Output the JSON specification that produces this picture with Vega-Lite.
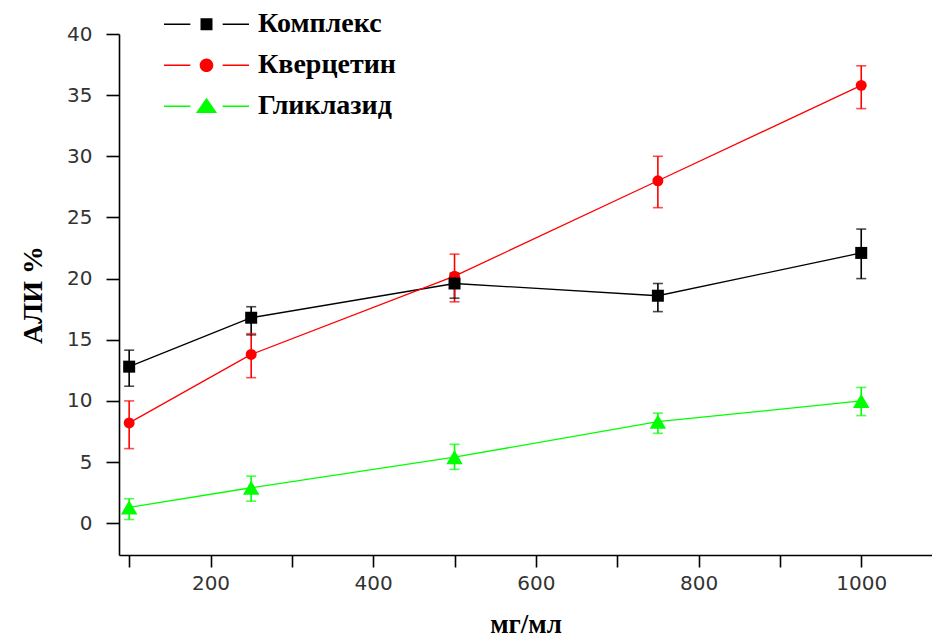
{
  "$schema": "https://vega.github.io/schema/vega-lite/v6.json",
  "width": 813,
  "height": 521,
  "autosize": "none",
  "padding": {"left": 119, "top": 34, "right": 0, "bottom": 85},
  "background": "white",
  "config": {"view": {"stroke": null}},
  "data": {"values": [
    {"series": "Комплекс", "x": 100, "y": 12.8, "lo": 11.2, "hi": 14.15},
    {"series": "Комплекс", "x": 250, "y": 16.8, "lo": 15.4, "hi": 17.7},
    {"series": "Комплекс", "x": 500, "y": 19.6, "lo": 18.4, "hi": 20.45},
    {"series": "Комплекс", "x": 750, "y": 18.6, "lo": 17.3, "hi": 19.6},
    {"series": "Комплекс", "x": 1000, "y": 22.1, "lo": 20.0, "hi": 24.05},
    {"series": "Кверцетин", "x": 100, "y": 8.2, "lo": 6.1, "hi": 10.0},
    {"series": "Кверцетин", "x": 250, "y": 13.8, "lo": 11.9, "hi": 15.5},
    {"series": "Кверцетин", "x": 500, "y": 20.2, "lo": 18.1, "hi": 22.0},
    {"series": "Кверцетин", "x": 750, "y": 28.0, "lo": 25.8, "hi": 30.0},
    {"series": "Кверцетин", "x": 1000, "y": 35.8, "lo": 33.9, "hi": 37.4},
    {"series": "Гликлазид", "x": 100, "y": 1.3, "lo": 0.3, "hi": 2.0},
    {"series": "Гликлазид", "x": 250, "y": 2.9, "lo": 1.8, "hi": 3.85},
    {"series": "Гликлазид", "x": 500, "y": 5.4, "lo": 4.4, "hi": 6.45},
    {"series": "Гликлазид", "x": 750, "y": 8.3, "lo": 7.35, "hi": 9.0},
    {"series": "Гликлазид", "x": 1000, "y": 10.0, "lo": 8.8, "hi": 11.1}
  ]},
  "encoding": {
    "x": {"field": "x", "type": "quantitative",
      "scale": {"domain": [87.5, 1087], "nice": false, "zero": false},
      "axis": {
        "title": "мг/мл",
        "values": [100, 200, 300, 400, 500, 600, 700, 800, 900, 1000],
        "labelExpr": "datum.value % 200 === 0 ? format(datum.value, 'd') : ''",
        "tickSize": 12,
        "encode": {"ticks": {"update": {"y2": {"signal": "datum.value % 200 === 0 ? 12 : 7"}}}},
        "grid": false,
        "domainColor": "#000", "domainWidth": 1.6,
        "tickColor": "#000", "tickWidth": 1.6,
        "labelFont": "DejaVu Sans", "labelFontSize": 20, "labelColor": "#333",
        "labelPadding": 6,
        "titleFont": "Liberation Serif", "titleFontWeight": "bold", "titleFontSize": 27, "titleColor": "#000",
        "titlePadding": 18
      }},
    "color": {"field": "series", "type": "nominal", "legend": null,
      "scale": {"domain": ["Комплекс", "Кверцетин", "Гликлазид"], "range": ["#000000", "#ff0000", "#00ff00"]}}
  },
  "layer": [
    {
      "mark": {"type": "line", "strokeWidth": 1.3},
      "encoding": {
        "y": {"field": "y", "type": "quantitative",
          "scale": {"domain": [-2.6, 40], "nice": false, "zero": false},
          "axis": {
            "title": "АЛИ %",
            "values": [0, 2.5, 5, 7.5, 10, 12.5, 15, 17.5, 20, 22.5, 25, 27.5, 30, 32.5, 35, 37.5, 40],
            "labelExpr": "datum.value % 5 === 0 ? format(datum.value, 'd') : ''",
            "tickSize": 13,
            "encode": {"ticks": {"update": {"x2": {"signal": "datum.value % 5 === 0 ? -13 : -8"}}}},
            "grid": false,
            "domainColor": "#000", "domainWidth": 1.6,
            "tickColor": "#000", "tickWidth": 1.6,
            "labelFont": "DejaVu Sans", "labelFontSize": 20, "labelColor": "#333",
            "labelPadding": 14,
            "titleFont": "Liberation Serif", "titleFontWeight": "bold", "titleFontSize": 28, "titleColor": "#000",
            "titlePadding": 19
          }},
        "color": {"field": "series", "type": "nominal",
          "scale": {"domain": ["Комплекс", "Кверцетин", "Гликлазид"], "range": ["#000000", "#ff0000", "#00ff00"]},
          "legend": {
            "orient": "none", "legendX": 45, "legendY": -30,
            "title": null, "padding": 0,
            "symbolSize": 7225, "clipHeight": 40.5, "rowPadding": 0,
            "labelOffset": 9, "labelLimit": 0,
            "labelFont": "Liberation Serif", "labelFontWeight": "bold", "labelFontSize": 28, "labelColor": "#000",
            "symbolStrokeWidth": 0,
            "encode": {"symbols": {"update": {
              "shape": {"signal": "datum.value === 'Комплекс' ? 'M-1,-0.018H-0.38V0.018H-1Z M0.38,-0.018H1V0.018H0.38Z M-0.141,-0.141H0.141V0.141H-0.141Z' : datum.value === 'Кверцетин' ? 'M-1,-0.018H-0.38V0.018H-1Z M0.38,-0.018H1V0.018H0.38Z M-0.16,0A0.16,0.16,0,1,0,0.16,0A0.16,0.16,0,1,0,-0.16,0Z' : 'M-1,-0.018H-0.38V0.018H-1Z M0.38,-0.018H1V0.018H0.38Z M0,-0.2L0.25,0.16L-0.25,0.16Z'"},
              "fill": {"signal": "datum.value === 'Комплекс' ? '#000000' : datum.value === 'Кверцетин' ? '#ff0000' : '#00ff00'"},
              "fillOpacity": {"value": 1},
              "opacity": {"value": 1},
              "strokeWidth": {"value": 0}
            }}}
          }}
      }
    },
    {
      "mark": {"type": "rule", "strokeWidth": 1.6},
      "encoding": {
        "y": {"field": "lo", "type": "quantitative"},
        "y2": {"field": "hi"}
      }
    },
    {
      "mark": {"type": "tick", "orient": "horizontal", "size": 10, "thickness": 1.6},
      "encoding": {
        "y": {"field": "lo", "type": "quantitative"}
      }
    },
    {
      "mark": {"type": "tick", "orient": "horizontal", "size": 10, "thickness": 1.6},
      "encoding": {
        "y": {"field": "hi", "type": "quantitative"}
      }
    },
    {
      "transform": [{"filter": "datum.series === 'Гликлазид'"}],
      "mark": {"type": "point", "filled": true, "opacity": 1, "shape": "triangle-up", "size": 270},
      "encoding": {
        "y": {"field": "y", "type": "quantitative"}
      }
    },
    {
      "transform": [{"filter": "datum.series === 'Кверцетин'"}],
      "mark": {"type": "point", "filled": true, "opacity": 1, "shape": "circle", "size": 120},
      "encoding": {
        "y": {"field": "y", "type": "quantitative"}
      }
    },
    {
      "transform": [{"filter": "datum.series === 'Комплекс'"}],
      "mark": {"type": "point", "filled": true, "opacity": 1, "shape": "square", "size": 144},
      "encoding": {
        "y": {"field": "y", "type": "quantitative"}
      }
    }
  ]
}
